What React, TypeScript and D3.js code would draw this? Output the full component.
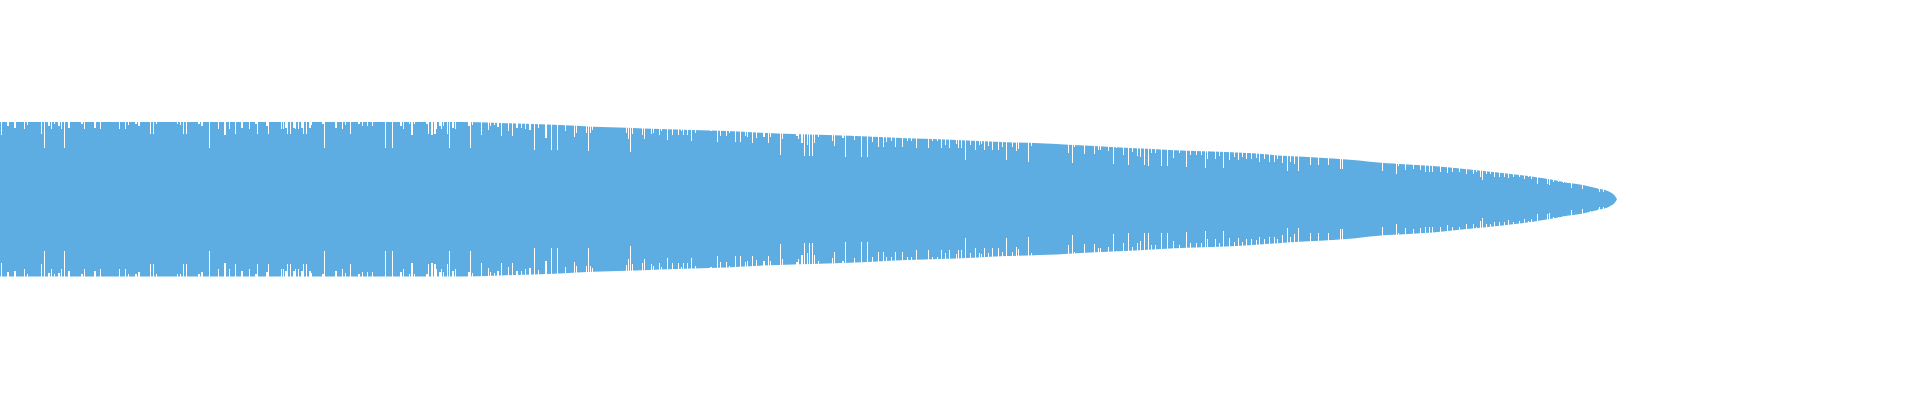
import React from "react";
import * as d3 from "d3";

// Waveform envelope: sample index (column) and peak amplitude
const envelopeIndex = [0, 280, 460, 500, 560, 593, 627, 660, 693, 727, 760, 793, 827, 873, 907, 940, 973, 1007, 1040, 1073, 1107, 1153, 1187, 1220, 1253, 1287, 1320, 1353, 1387, 1400, 1433, 1467, 1500, 1533, 1550, 1567, 1583, 1600, 1607, 1612, 1615, 1617];
const envelopePeak = [77.2, 77.2, 77.2, 76.2, 74.2, 72.5, 71.5, 70.2, 69.2, 68.2, 66.5, 65.2, 64.2, 62.5, 60.9, 59.9, 58.5, 56.9, 55.9, 54.2, 52.5, 50.2, 48.5, 47.5, 45.9, 43.2, 41.5, 39.2, 35.9, 35.2, 33.2, 29.9, 26.5, 22.5, 19.9, 16.5, 14.2, 10.2, 8.5, 5.9, 3.2, 0];

// Columns where the peak drops below the envelope: [sample index, peak]
const dips: [number, number][] = [
  [1,64.2],[7,73.2],[8,73.2],[14,71.5],[15,71.5],[24,70.2],[27,74.5],[41,65.2],[44,51.5],[48,73.5],[49,73.5],[51,70.2],[54,75.2],[58,73.5],[59,73.5],[61,70.2],[64,51.5],[68,71.5],[69,71.5],[81,75.2],[82,75.2],[84,70.2],[94,71.5],[95,71.5],[100,70.2],[119,70.2],[125,70.2],[128,74.5],[135,75.2],[136,75.2],[138,73.2],[139,73.2],[150,65.2],[153,65.2],[156,75.2],[177,75.2],[180,74.5],[183,65.2],[186,65.2],[198,75.2],[199,75.2],[201,73.2],[202,73.2],[209,51.5],[218,70.2],[224,64.2],[225,64.2],[229,70.2],[235,65.2],[241,71.5],[242,71.5],[249,70.2],[255,75.2],[256,75.2],[257,65.2],[266,73.2],[267,73.2],[268,65.2],
  [281,70.2],[283,70.2],[285,71.5],[286,71.5],[287,65.2],[290,65.2],[293,71.5],[294,71.5],[295,70.2],[298,70.2],[301,71.5],[302,71.5],[303,65.2],[306,65.2],[309,71.5],[310,71.5],[311,74.2],[322,75.2],[323,75.2],[324,51.5],[335,71.5],[336,71.5],[342,70.2],[345,74.2],[350,65.2],[358,75.2],[359,75.2],[362,73.2],[367,73.2],[372,73.2],[385,51.5],[392,51.5],[400,73.2],[401,73.2],[403,70.2],[409,75.2],[411,64.2],[412,64.2],[414,75.2],[426,75.2],[427,75.2],[428,65.2],[431,64.2],[432,64.2],[434,65.2],[435,65.2],[436,70.2],[439,73.2],[440,73.2],[441,70.2],[443,73.2],[447,65.2],[449,51.5],[452,71.5],[453,71.5],[455,70.2],[468,73.2],[469,73.2],[470,51.5],[472,74.2],[481,64.2],[488,69.2],[490,73.2],[494,74.2],[497,72.2],[498,72.2],[501,63.5],[508,68.2],[512,63.5],[516,71.5],[517,71.5],[521,71.5],[525,70.2],[529,69.2],[530,69.2],[534,49.2],[538,70.8],[545,61.5],[546,61.5],[551,49.2],[557,49.2],
  [565,68.2],[574,62.5],[576,66.5],[586,66.5],[588,48.5],[590,66.5],[592,69.2],[626,66.2],[628,60.2],[630,47.2],[632,65.2],[642,64.2],[644,60.2],[651,65.2],[653,66.5],[659,64.2],[661,68.2],[667,59.2],[672,64.2],[678,64.2],[681,68.2],[683,64.2],[687,64.2],[691,58.5],[695,66.5],[710,68.2],[711,68.2],[717,57.2],[720,63.2],[726,63.2],[729,66.5],[735,57.2],[740,57.2],[745,63.2],[747,61.9],[752,56.5],[756,61],[763,61.9],[764,61.9],[768,56.5],[770,61.9],[780,44.5],[782,60.2],[796,63.2],[797,63.2],[798,60.2],[801,55.9],[802,55.9],[804,43.5],[807,54.2],[809,43.5],[812,43.5],[814,55.9],[818,61.9],[832,58.5],[834,53.2],
  [842,61.5],[843,61.5],[845,42.5],[854,59.2],[861,42.5],[867,42.5],[872,57.5],[878,52.5],[883,52.5],[886,57.5],[891,58.2],[895,52.5],[902,52.5],[907,58.2],[911,58.2],[916,50.9],[928,50.9],[932,58.2],[937,58.2],[941,50.9],[945,54.2],[949,50.9],[956,54.9],[958,50.9],[961,50.9],[965,39.2],[970,54.2],[975,49.2],[979,54.2],[981,54.9],[984,49.2],[988,53.5],[992,49.2],[998,49.2],[1002,52.5],[1006,39.2],[1012,52.5],[1016,48.2],[1018,50.2],[1028,37.5],[1031,53.5],[1068,45.9],[1072,35.9],[1074,52.5],[1084,44.9],[1094,44.9],[1098,49.2],[1100,49.2],[1108,48.2],[1113,35.2],[1116,51.5],
  [1123,44.2],[1128,34.2],[1132,47.5],[1137,43.5],[1140,42.2],[1144,34.2],[1148,33.5],[1151,45.9],[1155,45.9],[1161,33.5],[1167,33.5],[1173,41.5],[1179,45.9],[1186,32.5],[1190,44.2],[1196,44.2],[1201,44.2],[1205,31.5],[1207,40.2],[1215,40.2],[1219,43.5],[1223,31.5],[1229,39.2],[1234,42.5],[1238,39.2],[1242,42.5],[1246,40.2],[1251,40.2],[1256,40.9],[1259,37.5],[1264,40.2],[1269,37.5],[1274,37.5],[1277,40.2],[1282,35.9],[1287,28.5],[1290,37.5],[1294,34.9],[1298,28.5],[1310,34.2],[1318,34.2],[1328,34.2],[1340,30.2],[1342,30.2],[1382,28.2],[1396,24.9],[1398,33.5],
  [1405,29.2],[1413,29.9],[1420,29.2],[1425,27.5],[1429,27.5],[1432,27.5],[1440,27.5],[1447,25.9],[1452,27.5],[1459,27.5],[1466,25.2],[1473,25.2],[1476,27.5],[1480,21.9],[1482,19.2],[1486,25.2],[1490,25.2],[1494,22.5],[1499,22.5],[1504,22.5],[1508,20.9],[1513,22.5],[1519,21.9],[1524,19.9],[1528,21.9],[1531,19.9],[1537,15.2],[1547,15.2],[1549,14.2],[1553,17.5],[1558,17.5],[1563,16.5],[1567,16.5],[1571,11.2],[1579,14.9],[1582,10.2],[1590,11.9],[1594,11.9],[1598,9.9],[1599,7.5],[1603,7.5]
];

const TOTAL_SAMPLES = 1617;
const MAX_PEAK = 77.5;

export default function App() {
  const width = 1920;
  const height = 400;
  const x = d3.scaleLinear().domain([0, TOTAL_SAMPLES]).range([0, 1617]);
  const y = d3.scaleLinear().domain([-MAX_PEAK, MAX_PEAK]).range([276.7, 121.7]);

  const pts = envelopeIndex.map((i, k) => [i, envelopePeak[k]] as [number, number]);
  const area = d3
    .area<[number, number]>()
    .x((d) => x(d[0]))
    .y0((d) => y(-d[1]))
    .y1((d) => y(d[1]))
    .curve(d3.curveMonotoneX);

  const colW = x(1) - x(0);

  return (
    <svg
      width={width}
      height={height}
      style={{ position: "absolute", left: 0, top: 0, display: "block" }}
    >
      <defs>
        <mask id="dipMask" maskUnits="userSpaceOnUse" x={0} y={0} width={width} height={height}>
          <rect x={0} y={0} width={width} height={height} fill="white" />
          {dips.map(([i, p], k) => (
            <g key={k} shapeRendering="crispEdges">
              <rect x={x(i)} y={0} width={colW} height={y(p)} fill="black" />
              <rect x={x(i)} y={y(-p)} width={colW} height={height - y(-p)} fill="black" />
            </g>
          ))}
        </mask>
      </defs>
      <path d={area(pts) || ""} fill="#5dade2" mask="url(#dipMask)" />
    </svg>
  );
}
